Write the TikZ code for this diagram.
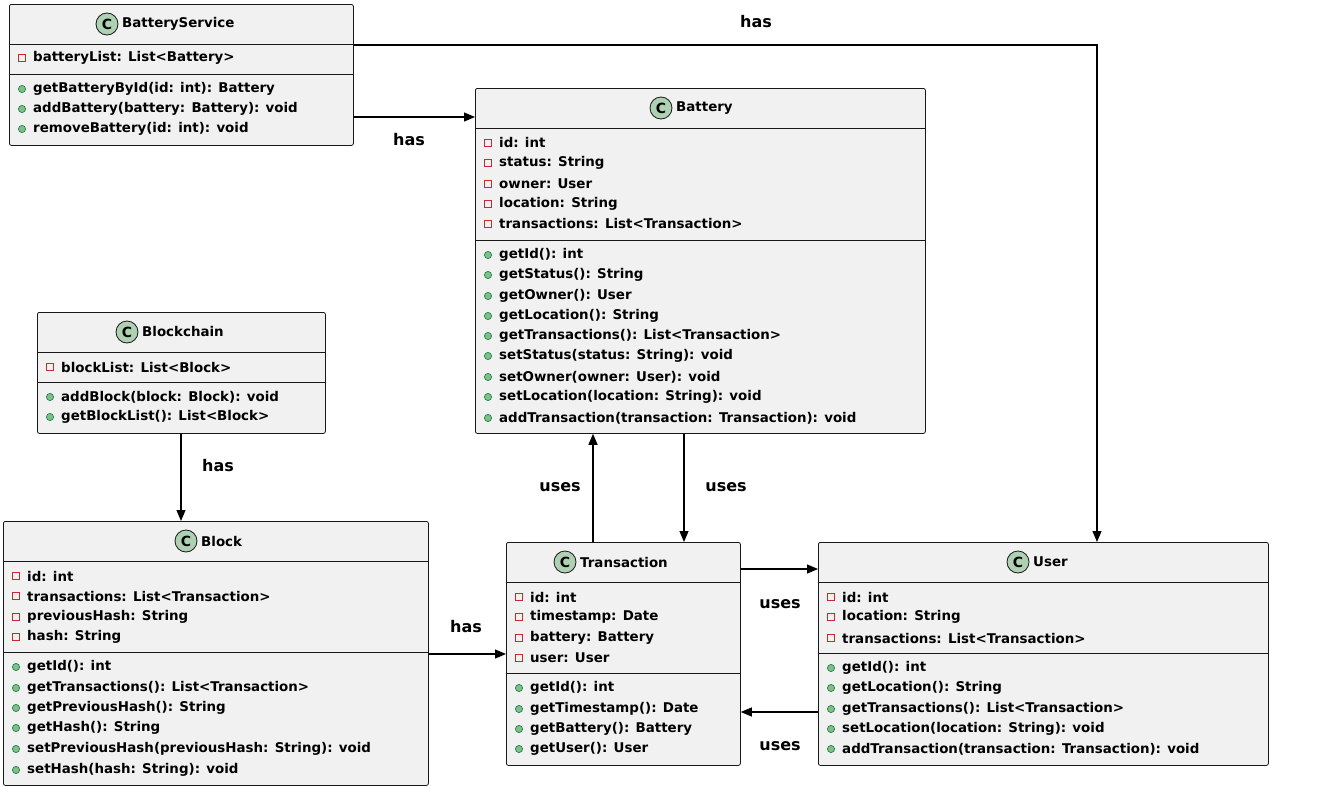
\documentclass[tikz,border=0pt]{standalone}
\usepackage{fontspec}
\setmainfont{DejaVu Sans}
\usetikzlibrary{arrows.meta}
\definecolor{boxfill}{HTML}{F1F1F1}
\definecolor{boxline}{HTML}{181818}
\definecolor{iconfill}{HTML}{ADD1B2}
\definecolor{privred}{HTML}{C82930}
\definecolor{pubfill}{HTML}{84BE84}
\definecolor{publine}{HTML}{038048}
\tikzset{
  umlbox/.style={draw=boxline,fill=boxfill,line width=0.8pt,rounded corners=2pt,anchor=north west,inner sep=0pt},
  txt/.style={anchor=west,inner sep=0pt,font=\fontsize{13.4}{15}\selectfont\bfseries},
  title/.style={anchor=west,inner sep=0pt,font=\fontsize{13.4}{15}\selectfont\bfseries},
  lbl/.style={inner sep=0pt,font=\fontsize{16}{18}\selectfont\bfseries},
  conn/.style={line width=1.2pt,-{Triangle[length=11pt,width=9pt]}},
}
\newcommand\umlclass[8]{% name x1 y1 x2 y2 headbottom sep iconx
  \node[umlbox,minimum width=#4pt-#2pt,minimum height=#5pt-#3pt] (#1) at (#2,#3) {};
  \draw[boxline,line width=0.8pt] (#2,#6) -- (#4,#6);
  \draw[boxline,line width=0.8pt] (#2,#7) -- (#4,#7);
  \node[circle,draw=boxline,fill=iconfill,line width=0.8pt,minimum size=22pt,inner sep=0pt,font=\fontsize{14}{14}\selectfont\bfseries] (#1icon) at (#8,{(#3+#6)/2}) {C};
  \node[title] (#1title) at (#8+15,{(#3+#6)/2}) {#1};
}
\newcommand\priv[3]{\draw[privred,line width=0.7pt] (#1+9.5,#2-3.5) rectangle (#1+16.5,#2+3.5);
  \node[txt] at (#1+24,#2) {#3};}
\newcommand\pub[3]{\draw[publine,fill=pubfill,line width=0.6pt] (#1+13,#2) circle (3.6pt);
  \node[txt] at (#1+24,#2) {#3};}
\begin{document}
\begin{tikzpicture}[x=1pt,y=-1pt]
\useasboundingbox[fill=white] (0,0) rectangle (1323,787);
% BatteryService
\umlclass{BatteryService}{9}{4}{353}{145}{44}{74}{107}
\priv{9}{58}{batteryList: List<Battery>}
\pub{9}{89}{getBatteryById(id: int): Battery}
\pub{9}{109}{addBattery(battery: Battery): void}
\pub{9}{129}{removeBattery(id: int): void}
% Battery
\umlclass{Battery}{475}{88}{925}{433}{128}{240}{661}
\priv{475}{143}{id: int}
\priv{475}{163}{status: String}
\priv{475}{184}{owner: User}
\priv{475}{204}{location: String}
\priv{475}{224}{transactions: List<Transaction>}
\pub{475}{255}{getId(): int}
\pub{475}{275}{getStatus(): String}
\pub{475}{296}{getOwner(): User}
\pub{475}{316}{getLocation(): String}
\pub{475}{336}{getTransactions(): List<Transaction>}
\pub{475}{356}{setStatus(status: String): void}
\pub{475}{377}{setOwner(owner: User): void}
\pub{475}{397}{setLocation(location: String): void}
\pub{475}{418}{addTransaction(transaction: Transaction): void}
% Blockchain
\umlclass{Blockchain}{37}{312}{325}{433}{352}{382}{127}
\priv{37}{367}{blockList: List<Block>}
\pub{37}{397}{addBlock(block: Block): void}
\pub{37}{417}{getBlockList(): List<Block>}
% Block
\umlclass{Block}{3}{521}{428}{785}{561}{652}{186}
\priv{3}{576}{id: int}
\priv{3}{596}{transactions: List<Transaction>}
\priv{3}{617}{previousHash: String}
\priv{3}{637}{hash: String}
\pub{3}{667}{getId(): int}
\pub{3}{688}{getTransactions(): List<Transaction>}
\pub{3}{708}{getPreviousHash(): String}
\pub{3}{728}{getHash(): String}
\pub{3}{749}{setPreviousHash(previousHash: String): void}
\pub{3}{770}{setHash(hash: String): void}
% Transaction
\umlclass{Transaction}{506}{542}{740}{765}{582}{673}{565}
\priv{506}{597}{id: int}
\priv{506}{617}{timestamp: Date}
\priv{506}{638}{battery: Battery}
\priv{506}{658}{user: User}
\pub{506}{688}{getId(): int}
\pub{506}{709}{getTimestamp(): Date}
\pub{506}{729}{getBattery(): Battery}
\pub{506}{749}{getUser(): User}
% User
\umlclass{User}{818}{542}{1268}{765}{582}{653}{1018}
\priv{818}{597}{id: int}
\priv{818}{617}{location: String}
\priv{818}{638}{transactions: List<Transaction>}
\pub{818}{668}{getId(): int}
\pub{818}{688}{getLocation(): String}
\pub{818}{709}{getTransactions(): List<Transaction>}
\pub{818}{729}{setLocation(location: String): void}
\pub{818}{749}{addTransaction(transaction: Transaction): void}
% connectors
\draw[conn] (BatteryService.north east |- 0,45) -| (User.north -| 1097,0);
\node[lbl] (l1) at (756,22) {has};
\draw[conn] (BatteryService.east |- 0,117) -- (Battery.west |- 0,117);
\node[lbl] (l2) at (409,140) {has};
\draw[conn] (Blockchain.south -| 181,0) -- (Block.north -| 181,0);
\node[lbl] (l3) at (218,466) {has};
\draw[conn] (Block.east |- 0,654) -- (Transaction.west |- 0,654);
\node[lbl] (l4) at (466,627) {has};
\draw[conn] (Transaction.north -| 593,0) -- (Battery.south -| 593,0);
\node[lbl] (l5) at (560,487) {uses};
\draw[conn] (Battery.south -| 684,0) -- (Transaction.north -| 684,0);
\node[lbl] (l6) at (726,487) {uses};
\draw[conn] (Transaction.east |- 0,569) -- (User.west |- 0,569);
\node[lbl] (l7) at (780,604) {uses};
\draw[conn] (User.west |- 0,712) -- (Transaction.east |- 0,712);
\node[lbl] (l8) at (780,746) {uses};
\end{tikzpicture}
\end{document}
